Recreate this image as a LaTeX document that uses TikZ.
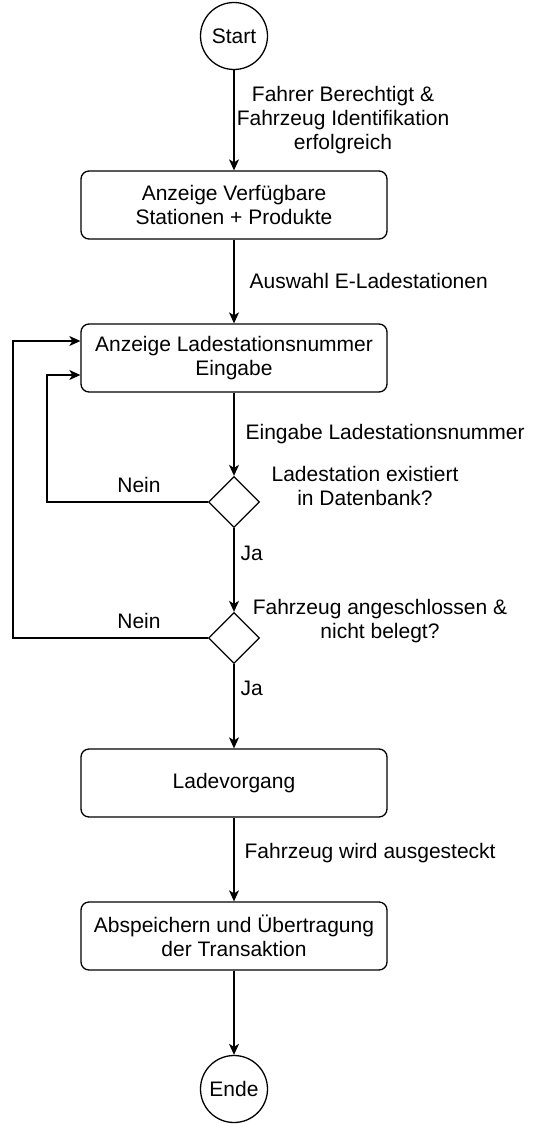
\documentclass[tikz,border=0pt]{standalone}
\usepackage{fontspec}
\setmainfont{Liberation Sans}
\usetikzlibrary{shapes.geometric,arrows.meta}
\begin{document}
\begin{tikzpicture}[x=1pt,y=-1pt,
  font=\fontsize{21}{24}\selectfont,
  line width=1.3pt,
  every node/.style={inner sep=0pt},
  term/.style={circle,draw,minimum size=67pt,line width=1.3pt},
  proc/.style={rectangle,rounded corners=8pt,draw,minimum width=306pt,minimum height=68pt,align=center,line width=1.3pt},
  dec/.style={diamond,draw,minimum width=51pt,minimum height=51pt,aspect=1,line width=1.3pt},
  flow/.style={-{Stealth[length=11pt,width=10pt,inset=3pt]}},
  lbl/.style={align=center,anchor=center},
  lblL/.style={anchor=west}]
\useasboundingbox (0,0) rectangle (541,1124);
\node[term] (start) at (234,36) {Start};
\node[proc] (b1) at (234,205) {Anzeige Verfügbare\\Stationen + Produkte};
\node[proc] (b2) at (234,358) {Anzeige Ladestationsnummer\\Eingabe};
\node[dec] (d1) at (234,502) {};
\node[dec] (d2) at (234,638) {};
\node[proc] (b3) at (234,783) {Ladevorgang};
\node[proc] (b4) at (234,936) {Abspeichern und Übertragung\\der Transaktion};
\node[term] (ende) at (234,1089) {Ende};

\coordinate (l1a) at (47,502);
\coordinate (l1b) at (47,375);
\coordinate (l1c) at (b2.west |- l1b);
\coordinate (l2a) at (13,638);
\coordinate (l2b) at (13,341);
\coordinate (l2c) at (b2.west |- l2b);

\draw[flow] (start) -- (b1);
\draw[flow] (b1) -- (b2);
\draw[flow] (b2) -- (d1);
\draw[flow] (d1) -- (d2);
\draw[flow] (d2) -- (b3);
\draw[flow] (b3) -- (b4);
\draw[flow] (b4) -- (ende);
\draw[flow] (d1.west) -- (l1a) -- (l1b) -- (l1c);
\draw[flow] (d2.west) -- (l2a) -- (l2b) -- (l2c);

\node[lbl] (t1) at (343,120) {Fahrer Berechtigt \&\\Fahrzeug Identifikation\\erfolgreich};
\node[lblL] (t2) at (249,281) {Auswahl E-Ladestationen};
\node[lblL] (t3) at (245,434) {Eingabe Ladestationsnummer};
\node[lbl] (t4) at (365,486) {Ladestation existiert\\in Datenbank?};
\node[lbl] (t5) at (139,485) {Nein};
\node[lblL] (t6) at (240,553) {Ja};
\node[lbl] (t7) at (380,621) {Fahrzeug angeschlossen \&\\nicht belegt?};
\node[lbl] (t8) at (139,621) {Nein};
\node[lblL] (t9) at (240,688) {Ja};
\node[lblL] (t10) at (244,853) {Fahrzeug wird ausgesteckt};
\end{tikzpicture}
\end{document}
